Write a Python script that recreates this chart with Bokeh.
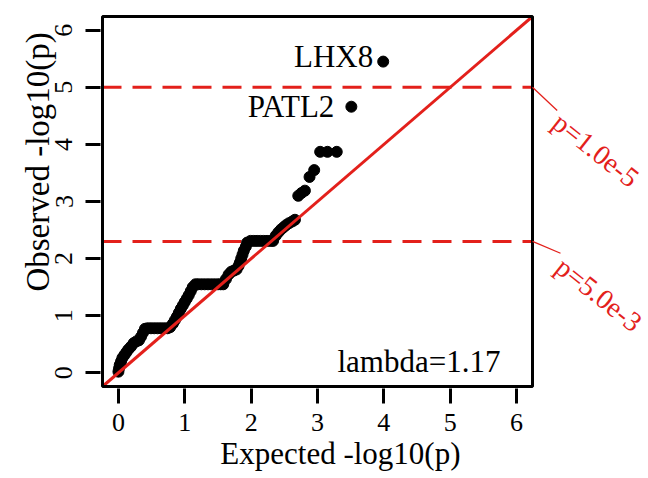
import math
from bokeh.plotting import figure
from bokeh.models import Range1d, Label, FixedTicker, ColumnDataSource
from bokeh.embed import file_html
from bokeh.resources import INLINE

# ---------------- data ----------------
exp_x = [3.99, 3.51, 3.29, 3.15, 3.04, 2.95, 2.88, 2.81, 2.76, 2.71,
         2.66, 2.62, 2.57, 2.53, 2.49, 2.45, 2.41, 2.37,
         2.33, 2.29, 2.24, 2.19, 2.14, 2.09, 2.04, 1.99,
         1.94, 1.92, 1.89, 1.87, 1.85, 1.83, 1.81, 1.78, 1.74, 1.70, 1.66, 1.62,
         1.58, 1.54, 1.50, 1.45, 1.40, 1.35, 1.30, 1.25, 1.20, 1.16,
         1.12, 1.09, 1.06, 1.03, 1.00, 0.97, 0.94, 0.91, 0.88, 0.85, 0.82, 0.78,
         0.74, 0.69, 0.64, 0.59, 0.54, 0.49, 0.44, 0.40,
         0.37, 0.34, 0.31, 0.27, 0.23, 0.19, 0.15, 0.12, 0.09, 0.06, 0.04, 0.02, 0.01, 0.00]
obs_y = [5.45, 4.66, 3.87, 3.87, 3.87, 3.55, 3.43, 3.19, 3.15, 3.10,
         2.68, 2.65, 2.62, 2.59, 2.55, 2.51, 2.46, 2.40,
         2.31, 2.31, 2.31, 2.31, 2.31, 2.31, 2.31, 2.31,
         2.28, 2.21, 2.14, 2.07, 2.00, 1.93, 1.87, 1.81, 1.79, 1.77, 1.72, 1.64,
         1.55, 1.55, 1.55, 1.55, 1.55, 1.55, 1.55, 1.55, 1.55, 1.55,
         1.50, 1.43, 1.36, 1.30, 1.24, 1.18, 1.12, 1.05, 0.98, 0.92, 0.86, 0.80,
         0.78, 0.78, 0.78, 0.78, 0.78, 0.78, 0.78, 0.77,
         0.70, 0.63, 0.57, 0.55, 0.52, 0.46, 0.41, 0.36, 0.31, 0.26, 0.20, 0.14, 0.08, 0.02]

gene_names = ["LHX8", "PATL2"]          # labels of the two top points
thresholds = [1.0e-5, 5.0e-3]
threshold_texts = ["p=1.0e-5", "p=5.0e-3"]
lambda_text = "lambda=1.17"
ticks = [0, 1, 2, 3, 4, 5, 6]
axis_lim = [0, 6]

RED = "#E3201B"
FONT = "Liberation Serif"

pad = 0.04 * (axis_lim[1] - axis_lim[0])
LO, HI = axis_lim[0] - pad, axis_lim[1] + pad      # R-style box limits

W, H = 648, 478
p = figure(width=W, height=H,
           x_range=Range1d(LO - 2 / 66.36, LO - 2 / 66.36 + (W - 100) / 66.36),
           y_range=Range1d(LO - 2 / 57.1, HI + 2 / 57.1),
           output_backend="svg", toolbar_location=None,
           min_border=0, min_border_left=100, min_border_right=0,
           min_border_top=14, min_border_bottom=90)
p.grid.visible = False
p.outline_line_color = None
p.background_fill_color = "white"
p.border_fill_color = "white"

for ax in (p.xaxis[0], p.yaxis[0]):
    ax.ticker = FixedTicker(ticks=ticks)
    ax.axis_line_color = None
    ax.major_tick_line_color = "black"
    ax.major_tick_line_width = 3
    ax.major_tick_out = 15
    ax.major_tick_in = 0
    ax.minor_tick_line_color = None
    ax.major_label_text_font = FONT
    ax.major_label_text_font_size = "26px"
    ax.major_label_text_color = "black"
    ax.axis_label_text_font = FONT
    ax.axis_label_text_font_style = "normal"
    ax.axis_label_text_color = "black"
p.xaxis.major_label_standoff = 10
p.yaxis.major_label_standoff = 13
p.yaxis.major_label_orientation = "vertical"
# titles (padding spaces shift them along the axis like in the reference)
p.xaxis.axis_label = "Expected -log10(p)\u2003\u2003\u2009"
p.xaxis.axis_label_text_font_size = "31px"
p.xaxis.axis_label_standoff = 2
p.yaxis.axis_label = "\u2003\u2003\u2009\u2009Observed -log10(p)"
p.yaxis.axis_label_text_font_size = "33px"
p.yaxis.axis_label_standoff = -3

# threshold dashed lines (beneath the points)
thr_y = [-math.log10(t) for t in thresholds]
p.segment(x0=[LO] * len(thr_y), x1=[HI] * len(thr_y), y0=thr_y, y1=thr_y,
          line_color=RED, line_width=3, line_dash="19 11")

src = ColumnDataSource(data=dict(x=exp_x, y=obs_y))
p.scatter("x", "y", source=src, size=11, fill_color="black", line_color="black")

# diagonal y = x inside the box
p.line(x=[LO, HI], y=[LO, HI], line_color=RED, line_width=3)

# box
p.quad(left=[LO], right=[HI], bottom=[LO], top=[HI], fill_color=None,
       line_color="black", line_width=3)

# gene labels
p.add_layout(Label(x=exp_x[0], y=obs_y[0], text=gene_names[0], text_align="right",
                   text_baseline="middle", x_offset=-10, y_offset=5,
                   text_font=FONT, text_font_size="31px", text_color="black"))
p.add_layout(Label(x=exp_x[1], y=obs_y[1], text=gene_names[1], text_align="right",
                   text_baseline="middle", x_offset=-17, y_offset=0,
                   text_font=FONT, text_font_size="31px", text_color="black"))

# lambda
p.add_layout(Label(x=3.30, y=0.20, text=lambda_text, text_align="left",
                   text_baseline="alphabetic", text_font=FONT,
                   text_font_size="31px", text_color="black"))

# side labels for thresholds: connector end (dx, dy) and text centre (dx, dy) relative to (HI, y)
side = [(0.372, -0.406, 0.955, -1.10), (0.422, -0.207, 1.00, -0.93)]
for yv, txt, (cx, cy, lx, ly) in zip(thr_y, threshold_texts, side):
    p.segment(x0=[HI], y0=[yv], x1=[HI + cx], y1=[yv + cy], line_color=RED, line_width=1.3)
    p.add_layout(Label(x=HI + lx, y=yv + ly, text=txt, angle=-0.67, text_align="center",
                       text_baseline="middle", text_font=FONT, text_font_size="28px",
                       text_color=RED))

open("out.html", "w").write(file_html(p, INLINE))
